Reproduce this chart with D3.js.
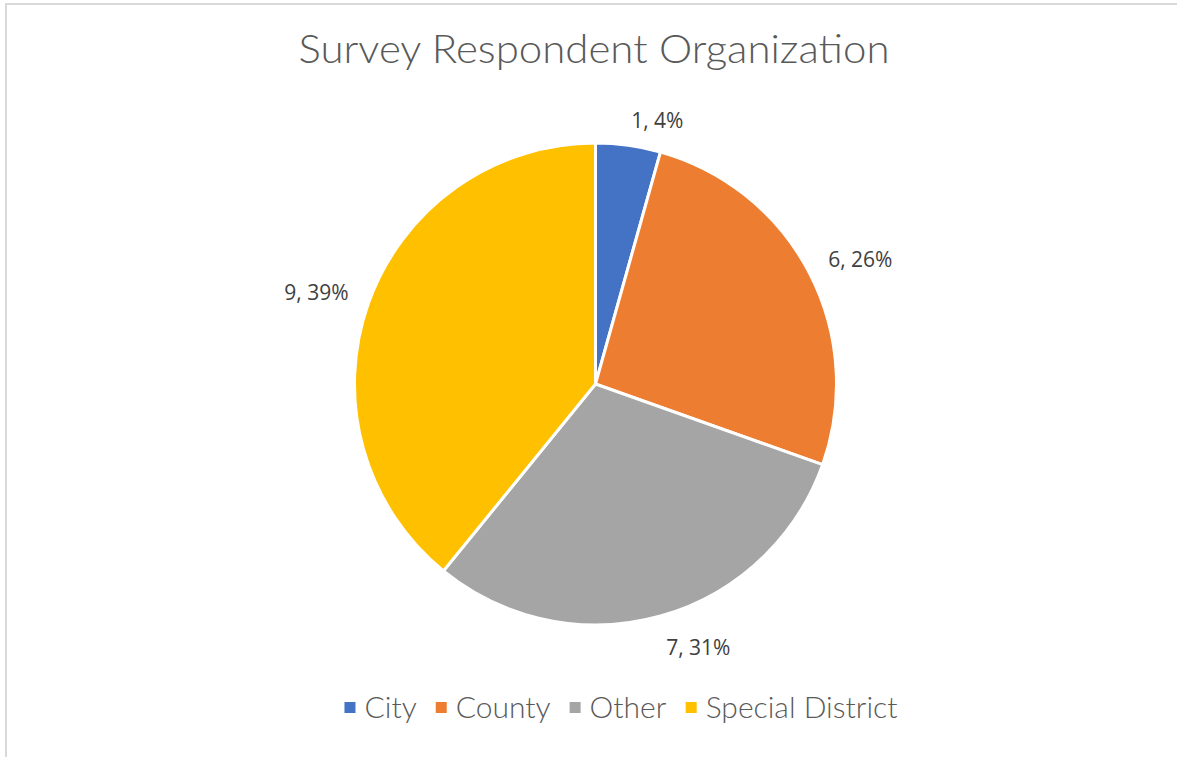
<!DOCTYPE html>
<html>
<head>
<meta charset="utf-8">
<script src="https://cdn.jsdelivr.net/npm/d3@7"></script>
<style>
  body { margin: 0; background: #fff; }
  svg { display: block; }
</style>
</head>
<body>
<svg id="pie-svg"></svg>
<script>
// data
var categories = ["City", "County", "Other", "Special District"];
var counts = [1, 6, 7, 9];
var percentLabels = ["4%", "26%", "31%", "39%"];
var colors = ["#4472C4", "#ED7D31", "#A5A5A5", "#FFC000"];
var title = "Survey Respondent Organization";

var width = 1177, height = 757;
var cx = 595.5, cy = 384, radius = 241;

var svg = d3.select("#pie-svg")
    .attr("width", width)
    .attr("height", height);

// chart frame (runs off the right / bottom of the window)
svg.append("rect")
    .attr("x", 6).attr("y", 4)
    .attr("width", 1300).attr("height", 900)
    .attr("fill", "#fff")
    .attr("stroke", "#d9d9d9")
    .attr("stroke-width", 2);

// title
svg.append("text")
    .attr("x", 594).attr("y", 63)
    .attr("text-anchor", "middle")
    .style("font-family", "Lato, 'Noto Sans', sans-serif")
    .style("font-weight", 300)
    .style("font-size", "39px")
    .style("fill", "#595959")
    .attr("textLength", 591)
    .attr("lengthAdjust", "spacingAndGlyphs")
    .text(title);

// pie -------------------------------------------------------------
var pie = d3.pie().sort(null).value(function(d){ return d; });
var arcs = pie(counts);

var arc = d3.arc().innerRadius(0).outerRadius(radius);

var g = svg.append("g")
    .attr("transform", "translate(" + cx + "," + cy + ")");

g.selectAll("path.slice")
    .data(arcs)
    .enter()
    .append("path")
    .attr("class", "slice")
    .attr("d", arc)
    .style("fill", function(d, i){ return colors[i]; })
    .style("stroke", "#fff")
    .style("stroke-width", 3)
    .style("stroke-linejoin", "miter");

// data labels, outside end: nearest corner of the label sits on the mid-angle ray
var capH = 15;
var labels = g.selectAll("text.lbl")
    .data(arcs)
    .enter()
    .append("text")
    .attr("class", "lbl")
    .attr("text-anchor", "middle")
    .style("font-family", "'Open Sans', 'Noto Sans', sans-serif")
    .style("font-size", "21px")
    .style("fill", "#404040")
    .text(function(d, i){ return counts[i] + ", " + percentLabels[i]; });

labels.each(function(d){
    var w = this.getBBox().width;
    var a = (d.startAngle + d.endAngle) / 2;
    var ux = Math.sin(a), uy = -Math.cos(a);
    var r = radius + 21;
    var mx = ux * r + Math.sign(ux) * w / 2;
    var my = uy * r + Math.sign(uy) * capH / 2;
    d3.select(this).attr("x", mx).attr("y", my + capH / 2 + 4);
});

// legend ----------------------------------------------------------
var legend = svg.append("g");
var items = legend.selectAll("g.item")
    .data(categories)
    .enter()
    .append("g")
    .attr("class", "item");

items.append("rect")
    .attr("width", 11).attr("height", 11)
    .attr("y", -16)
    .style("fill", function(d, i){ return colors[i]; });

items.append("text")
    .attr("x", 20)
    .attr("y", 0)
    .style("font-family", "Lato, 'Noto Sans', sans-serif")
    .style("font-weight", 300)
    .style("font-size", "30px")
    .style("fill", "#595959")
    .text(function(d){ return d; });

var xpos = 0;
items.each(function(){
    var w = this.getBBox().width;
    d3.select(this).attr("transform", "translate(" + xpos + ",0)");
    xpos += w + 19;
});
var total = xpos - 19;
legend.attr("transform", "translate(" + (621 - total / 2) + ",718)");
</script>
</body>
</html>
